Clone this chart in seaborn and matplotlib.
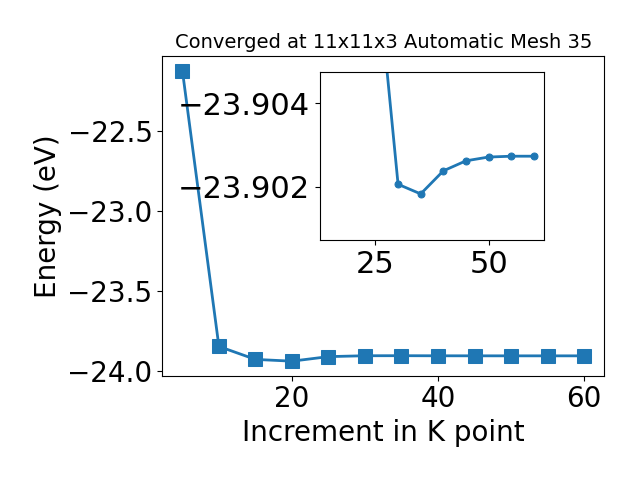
import numpy as np
import pandas as pd
import matplotlib
matplotlib.use("Agg")
import matplotlib.pyplot as plt
import seaborn as sns

# k-point increments and total energies (eV)
kpoints = [5, 10, 15, 20, 25, 30, 35, 40, 45, 50, 55, 60]
energy = [-22.119, -23.844, -23.925, -23.936, -23.9076, -23.90206, -23.90183,
          -23.90238, -23.90262, -23.90271, -23.90273, -23.90273]

df = pd.DataFrame({"k": kpoints, "E": energy})
color = "#1f77b4"

plt.rcParams["font.size"] = 20
fig = plt.figure(figsize=(6.4, 4.8), dpi=100)
ax = fig.add_axes([0.2536, 0.2173, 0.944 - 0.2536, 0.8833 - 0.2173])
sns.lineplot(data=df, x="k", y="E", ax=ax, color=color, marker="s",
             markersize=10, linewidth=2, markeredgecolor=color)
ax.set_xlabel("Increment in K point")
ax.set_ylabel("Energy (eV)")
ax.set_title("Converged at 11x11x3 Automatic Mesh 35", fontsize=14)

# zoomed inset of the converged region
ins = fig.add_axes([0.5, 0.5, 0.35, 0.35])
sub = df[df["k"] >= 15]
sns.lineplot(data=sub, x="k", y="E", ax=ins, color=color, marker="o",
             markersize=5, linewidth=2, markeredgecolor=color)
ins.set_ylim(-23.90073, -23.90474)
ins.set_xlabel("")
ins.set_ylabel("")
ins.set_yticks([-23.904, -23.902])
ins.set_xticks([25, 50])
ins.ticklabel_format(axis="y", useOffset=False)
ins.tick_params(labelsize=22)

fig.savefig("out.png", dpi=100)
